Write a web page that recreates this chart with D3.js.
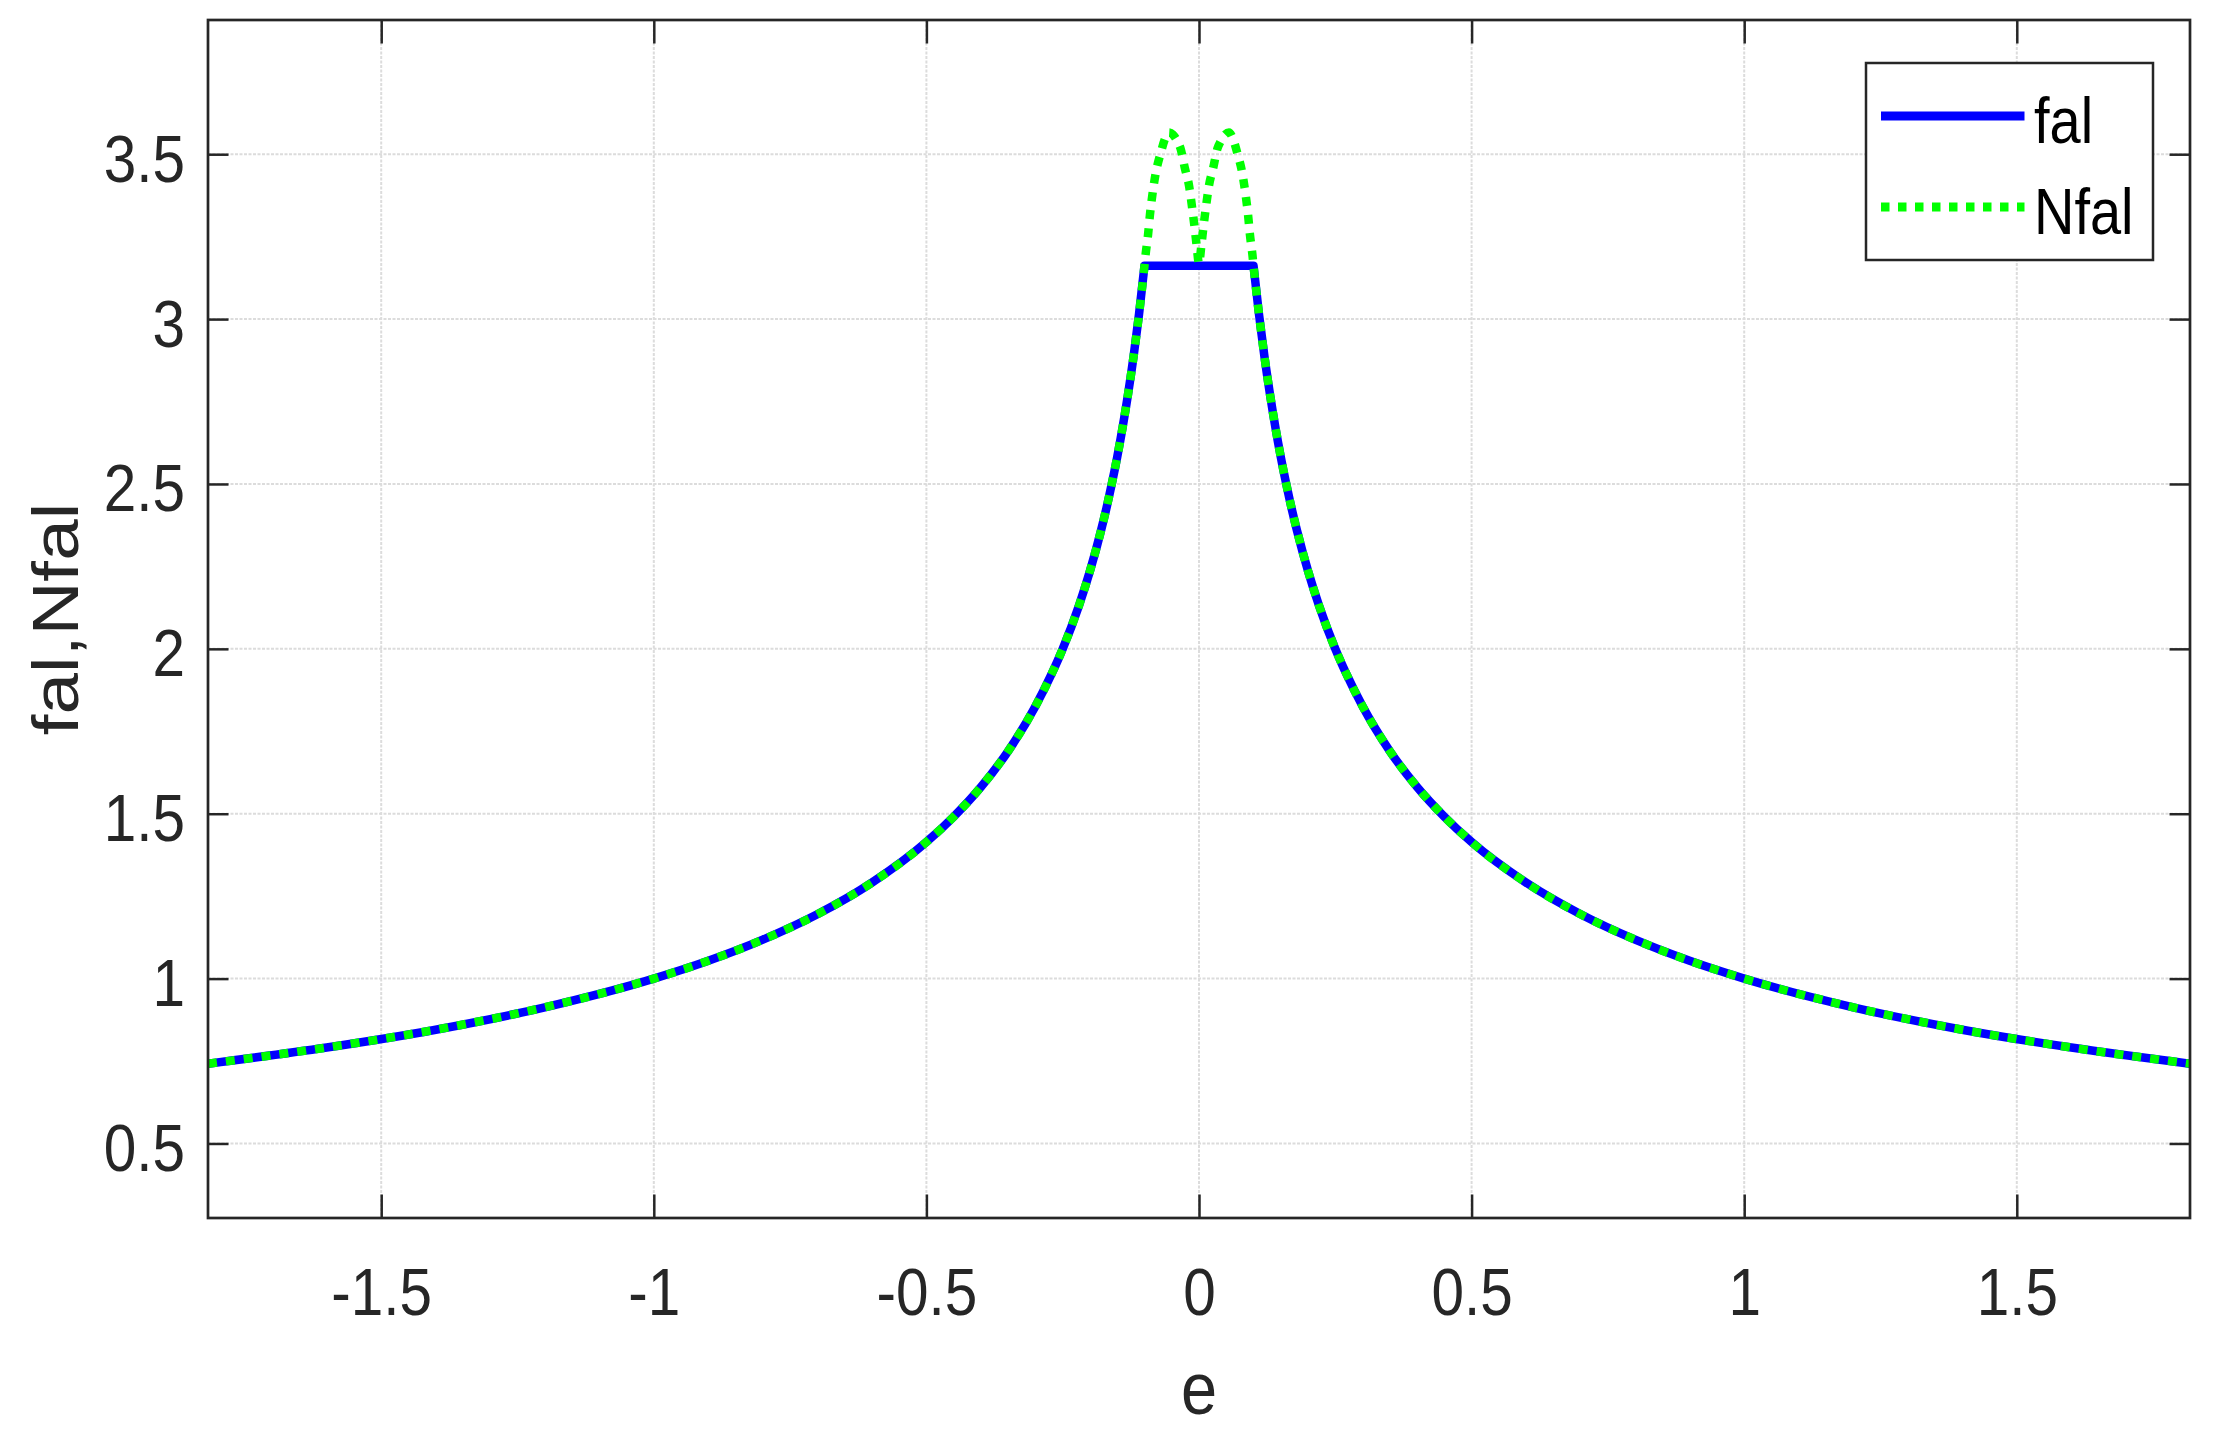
<!DOCTYPE html>
<html><head><meta charset="utf-8">
<script src="https://cdn.jsdelivr.net/npm/d3@7/dist/d3.min.js"></script>
<style>body{margin:0;background:#fff}svg{display:block}</style>
</head><body><svg id="c" width="2218" height="1429"></svg>
<script>
// ---------- data ----------
const eFal = [-1.8177,-1.6,-1.4,-1.2,-1.0,-0.9,-0.8,-0.7,-0.6,-0.5,-0.45,-0.4,-0.35,-0.3,-0.27,-0.25,-0.22,-0.2,-0.18,-0.17,-0.16,-0.15,-0.14,-0.13,-0.12,-0.11,-0.1,
              0.1,0.11,0.12,0.13,0.14,0.15,0.16,0.17,0.18,0.2,0.22,0.25,0.27,0.3,0.35,0.4,0.45,0.5,0.6,0.7,0.8,0.9,1.0,1.2,1.4,1.6,1.8177];
const falValues = [0.742,0.791,0.845,0.913,1.0,1.054,1.118,1.195,1.291,1.414,1.491,1.581,1.690,1.826,1.925,2.0,2.132,2.236,2.357,2.425,2.5,2.582,2.673,2.774,2.887,3.015,3.162,
              3.162,3.015,2.887,2.774,2.673,2.582,2.5,2.425,2.357,2.236,2.132,2.0,1.925,1.826,1.690,1.581,1.491,1.414,1.291,1.195,1.118,1.054,1.0,0.913,0.845,0.791,0.742];
const eNfal = [-1.8177,-1.6,-1.4,-1.2,-1.0,-0.9,-0.8,-0.7,-0.6,-0.5,-0.45,-0.4,-0.35,-0.3,-0.27,-0.25,-0.22,-0.2,-0.18,-0.17,-0.16,-0.15,-0.14,-0.13,-0.12,-0.11,-0.1,
              -0.098,-0.0935,-0.09,-0.0855,-0.08,-0.07,-0.062,-0.055,-0.048,-0.04,-0.034,-0.026,-0.018,-0.013,-0.0085,-0.0043,0,
              0.0043,0.0085,0.013,0.018,0.026,0.034,0.04,0.048,0.055,0.062,0.07,0.08,0.0855,0.09,0.0935,0.098,
              0.1,0.11,0.12,0.13,0.14,0.15,0.16,0.17,0.18,0.2,0.22,0.25,0.27,0.3,0.35,0.4,0.45,0.5,0.6,0.7,0.8,0.9,1.0,1.2,1.4,1.6,1.8177];
const nfalValues = [0.742,0.791,0.845,0.913,1.0,1.054,1.118,1.195,1.291,1.414,1.491,1.581,1.690,1.826,1.925,2.0,2.132,2.236,2.357,2.425,2.5,2.582,2.673,2.774,2.887,3.015,3.162,
              3.195,3.255,3.316,3.377,3.437,3.505,3.548,3.566,3.560,3.540,3.518,3.458,3.402,3.343,3.284,3.223,3.168,
              3.223,3.284,3.343,3.402,3.458,3.518,3.540,3.560,3.566,3.548,3.505,3.437,3.377,3.316,3.255,3.195,
              3.162,3.015,2.887,2.774,2.673,2.582,2.5,2.425,2.357,2.236,2.132,2.0,1.925,1.826,1.690,1.581,1.491,1.414,1.291,1.195,1.118,1.054,1.0,0.913,0.845,0.791,0.742];
const xTicks = [-1.5,-1,-0.5,0,0.5,1,1.5];
const xTickLabels = ["-1.5","-1","-0.5","0","0.5","1","1.5"];
const yTicks = [0.5,1,1.5,2,2.5,3,3.5];
const yTickLabels = ["0.5","1","1.5","2","2.5","3","3.5"];
const seriesNames = ["fal","Nfal"];
const xLabel = "e";
const yLabel = "fal,Nfal";

// ---------- layout ----------
const L = 208, R = 2190, T = 20, B = 1218;
const SY = 1.15;            // vertical stretch of the glyphs in the reference
const INK = "#262626";
const FONT = "'Liberation Sans', Arial, Helvetica, sans-serif";

const svg = d3.select("#c");
svg.append("rect").attr("width",2218).attr("height",1429).attr("fill","#fff");

const x = d3.scaleLinear().domain([-1.8177, 1.8177]).range([L, R]);
const y = d3.scaleLinear().domain([0.274, 3.907]).range([B, T]);

// grid
const grid = svg.append("g").attr("stroke","#dcdcdc").attr("stroke-width",2).attr("stroke-dasharray","3,1.5");
grid.selectAll("line.gx").data(xTicks).join("line")
  .attr("x1",d=>x(d)).attr("x2",d=>x(d)).attr("y1",T).attr("y2",B);
grid.selectAll("line.gy").data(yTicks).join("line")
  .attr("class","gy").attr("y1",d=>y(d)).attr("y2",d=>y(d)).attr("x1",L).attr("x2",R);

// clip
svg.append("clipPath").attr("id","clip").append("rect").attr("x",L).attr("y",T).attr("width",R-L).attr("height",B-T);

// curves
const line = d3.line().x(d=>x(d[0])).y(d=>y(d[1])).curve(d3.curveMonotoneX);
const falPts = eFal.map((e,i)=>[e,falValues[i]]);
const leftFal = falPts.filter(p=>p[0]<=-0.1), rightFal = falPts.filter(p=>p[0]>=0.1);
const falPath = line(leftFal) + line(rightFal).replace(/^M/,"L");
const nfalPts = eNfal.map((e,i)=>[e,nfalValues[i]]);

const plot = svg.append("g").attr("clip-path","url(#clip)");
plot.append("path").attr("d",falPath).attr("fill","none").attr("stroke","#0000ff")
  .attr("stroke-width",8.5).attr("stroke-linejoin","round");
plot.append("path").attr("d",line(nfalPts)).attr("fill","none").attr("stroke","#00ff00")
  .attr("stroke-width",8.5).attr("stroke-dasharray","9,9").attr("stroke-linejoin","round");

// axes
function styleAxis(g){
  g.select(".domain").remove();
  g.selectAll(".tick line").attr("stroke",INK).attr("stroke-width",2.5);
}
const gB = svg.append("g").attr("transform",`translate(0,${B})`)
  .call(d3.axisBottom(x).tickValues(xTicks).tickFormat((d,i)=>xTickLabels[i]).tickSizeInner(-23.5).tickSizeOuter(0));
styleAxis(gB);
gB.selectAll(".tick text").attr("y",null).attr("dy",null)
  .attr("transform",`translate(0,97) scale(1,${SY})`)
  .attr("font-size",58.5).attr("font-family",FONT).attr("fill",INK).attr("text-anchor","middle");

const gL = svg.append("g").attr("transform",`translate(${L},0)`)
  .call(d3.axisLeft(y).tickValues(yTicks).tickFormat((d,i)=>yTickLabels[i]).tickSizeInner(-20.5).tickSizeOuter(0));
styleAxis(gL);
gL.selectAll(".tick text").attr("x",null).attr("dy",null)
  .attr("transform",`translate(-23,27) scale(1,${SY})`)
  .attr("font-size",58.5).attr("font-family",FONT).attr("fill",INK).attr("text-anchor","end");

const gT = svg.append("g").attr("transform",`translate(0,${T})`)
  .call(d3.axisTop(x).tickValues(xTicks).tickFormat("").tickSizeInner(-23.5).tickSizeOuter(0));
styleAxis(gT);
const gR = svg.append("g").attr("transform",`translate(${R},0)`)
  .call(d3.axisRight(y).tickValues(yTicks).tickFormat("").tickSizeInner(-20.5).tickSizeOuter(0));
styleAxis(gR);

// box
svg.append("rect").attr("x",L).attr("y",T).attr("width",R-L).attr("height",B-T)
  .attr("fill","none").attr("stroke",INK).attr("stroke-width",2.7);

// axis labels
svg.append("text").text(xLabel).attr("transform",`translate(${(L+R)/2},1414) scale(1,${SY})`)
  .attr("text-anchor","middle").attr("font-size",65).attr("font-family",FONT).attr("fill",INK);
svg.append("text").text(yLabel).attr("transform",`translate(78,${(T+B)/2}) scale(1,${SY}) rotate(-90)`)
  .attr("text-anchor","middle").attr("font-size",65).attr("font-family",FONT).attr("fill",INK);

// legend
const lg = svg.append("g");
lg.append("rect").attr("x",1866).attr("y",63).attr("width",287).attr("height",197)
  .attr("fill","#fff").attr("stroke",INK).attr("stroke-width",2.5);
const legendStyles = [{c:"#0000ff",dash:null,y:116},{c:"#00ff00",dash:"8.5,8.5",y:207}];
legendStyles.forEach((s,i)=>{
  lg.append("line").attr("x1",1881).attr("x2",2024.5).attr("y1",s.y).attr("y2",s.y)
    .attr("stroke",s.c).attr("stroke-width",9).attr("stroke-dasharray",s.dash);
  lg.append("text").text(seriesNames[i]).attr("transform",`translate(2034,${s.y+27}) scale(1,${SY})`)
    .attr("font-size",56).attr("font-family",FONT).attr("fill","#000");
});
</script></body></html>
